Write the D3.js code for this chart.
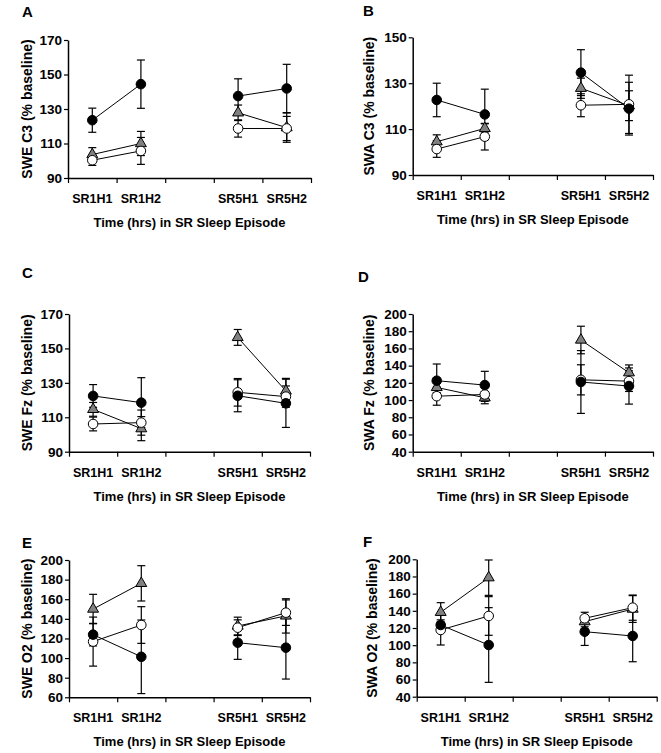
<!DOCTYPE html>
<html>
<head>
<meta charset="utf-8">
<script src="https://cdn.jsdelivr.net/npm/d3@7/dist/d3.min.js"></script>
<style>
  html, body { margin: 0; padding: 0; background: #fff; }
  svg { display: block; }
  text { font-family: "Liberation Sans", Arial, sans-serif; font-weight: bold; fill: #000; }
</style>
</head>
<body>
<svg id="chart" width="661" height="753"></svg>
<script>
// ---------- DATA ----------
const categories = ["SR1H1", "SR1H2", "", "SR5H1", "SR5H2"];
const xTitle = "Time (hrs) in SR Sleep Episode";

const panelLetters = ["A", "B", "C", "D", "E", "F"];
const yTitles = ["SWE C3 (% baseline)", "SWA C3 (% baseline)", "SWE Fz (% baseline)",
                 "SWA Fz (% baseline)", "SWE O2 (% baseline)", "SWA O2 (% baseline)"];

const yTicksA = [90, 110, 130, 150, 170];
const yTicksB = [90, 110, 130, 150];
const yTicksC = [90, 110, 130, 150, 170];
const yTicksD = [40, 60, 80, 100, 120, 140, 160, 180, 200];
const yTicksE = [60, 80, 100, 120, 140, 160, 180, 200];
const yTicksF = [40, 60, 80, 100, 120, 140, 160, 180, 200];

// values per category (null = gap category)
// Panel A
const A_filled    = [123.5, 144.4, null, 137.5, 141.9];
const A_filledErr = [7, 14, null, 10, 14];
const A_tri       = [103.6, 110, null, 127.8, 119.2];
const A_triErr    = [4, 7, null, 4.5, 8.5];
const A_open      = [100.3, 105.7, null, 118.7, 118.7];
const A_openErr   = [3, 7.8, null, 5, 7];
// Panel B
const B_filled    = [122.7, 116.4, null, 134.6, 118.9];
const B_filledErr = [7.3, 11, null, 10, 11.5];
const B_tri       = [104.5, 110.3, null, 127.8, 120.2];
const B_triErr    = [3, 2, null, 4.4, 6.5];
const B_open      = [101.3, 106.7, null, 120.4, 120.8];
const B_openErr   = [3.6, 5.8, null, 5, 12.7];
// Panel C
const C_filled    = [122.4, 118.5, null, 122.5, 118.1];
const C_filledErr = [6.6, 14.5, null, 9.3, 14];
const C_tri       = [114.6, 103.4, null, 156.4, 125.3];
const C_triErr    = [4, 7, null, 4.6, 7.3];
const C_open      = [106.1, 106.9, null, 124.5, 122];
const C_openErr   = [4, 7.3, null, 8, 6.2];
// Panel D
const D_filled    = [122.5, 117.4, null, 121, 116.3];
const D_filledErr = [19.4, 16, null, 36.5, 21];
const D_tri       = [114.7, 102.7, null, 169.8, 131.8];
const D_triErr    = [6, 7, null, 16, 9];
const D_open      = [104.5, 106.5, null, 123.5, 122];
const D_openErr   = [10.5, 8, null, 17.5, 12];
// Panel E
const E_filled    = [123.9, 101.3, null, 115.7, 110.6];
const E_filledErr = [11.5, 37.5, null, 17, 32];
const E_tri       = [150, 176.2, null, 132.7, 143];
const E_triErr    = [15, 18, null, 9, 17.5];
const E_open      = [116.8, 133.7, null, 131, 146.3];
const E_openErr   = [25, 18.7, null, 8, 13];
// Panel F
const F_filled    = [123.5, 100.2, null, 115.7, 110.7];
const F_filledErr = [6, 43.5, null, 16, 30];
const F_tri       = [138.3, 178.6, null, 127.4, 142.1];
const F_triErr    = [11.2, 20.6, null, 6, 15.6];
const F_open      = [117.7, 134, null, 131.3, 143.7];
const F_openErr   = [17.5, 22.5, null, 7, 14.7];

// ---------- LAYOUT ----------
const panels = [
  {letter: panelLetters[0], yTitle: yTitles[0], ticks: yTicksA,
   series: [[A_tri, A_triErr], [A_open, A_openErr], [A_filled, A_filledErr]],
   x0: 68, x1: 311, yTop: 40, yBot: 178, letterX: 22, letterY: 17, yTitleX: 27},
  {letter: panelLetters[1], yTitle: yTitles[1], ticks: yTicksB,
   series: [[B_tri, B_triErr], [B_open, B_openErr], [B_filled, B_filledErr]],
   x0: 412.7, x1: 653, yTop: 37.3, yBot: 175, letterX: 363, letterY: 16, yTitleX: 369},
  {letter: panelLetters[2], yTitle: yTitles[2], ticks: yTicksC,
   series: [[C_tri, C_triErr], [C_open, C_openErr], [C_filled, C_filledErr]],
   x0: 69, x1: 310, yTop: 314, yBot: 451.7, letterX: 22, letterY: 278, yTitleX: 27},
  {letter: panelLetters[3], yTitle: yTitles[3], ticks: yTicksD,
   series: [[D_tri, D_triErr], [D_open, D_openErr], [D_filled, D_filledErr]],
   x0: 412.7, x1: 653, yTop: 314, yBot: 451.7, letterX: 358, letterY: 282, yTitleX: 369},
  {letter: panelLetters[4], yTitle: yTitles[4], ticks: yTicksE,
   series: [[E_tri, E_triErr], [E_open, E_openErr], [E_filled, E_filledErr]],
   x0: 69, x1: 310, yTop: 560, yBot: 697.3, letterX: 22, letterY: 548, yTitleX: 27},
  {letter: panelLetters[5], yTitle: yTitles[5], ticks: yTicksF,
   series: [[F_tri, F_triErr], [F_open, F_openErr], [F_filled, F_filledErr]],
   x0: 416.7, x1: 656.7, yTop: 559.3, yBot: 696.7, letterX: 363, letterY: 547, yTitleX: 372}
];

// series styles: triangle (grey), open circle, filled circle
const styles = [
  {shape: d3.symbolTriangle, size: 52, fill: "#808080"},
  {shape: d3.symbolCircle, size: 72, fill: "#ffffff"},
  {shape: d3.symbolCircle, size: 72, fill: "#000000"}
];

const svg = d3.select("#chart");

panels.forEach(p => {
  const g = svg.append("g");
  const idx = d3.range(categories.length);
  const band = d3.scaleBand().domain(idx).range([p.x0, p.x1]).paddingInner(0).paddingOuter(0);
  const xl = d3.scaleLinear().domain([0, categories.length]).range([p.x0, p.x1]);
  const y = d3.scaleLinear().domain([p.ticks[0], p.ticks[p.ticks.length - 1]]).range([p.yBot, p.yTop]);
  const cx = i => band(i) + band.bandwidth() / 2;

  // x axis tick marks at band boundaries
  const xa = g.append("g").attr("transform", `translate(0,${p.yBot})`)
    .call(d3.axisBottom(xl).tickValues(d3.range(categories.length + 1)).tickFormat("").tickSizeInner(5).tickSizeOuter(0));
  xa.selectAll("path.domain").attr("stroke", "#000").attr("stroke-width", 1.5);
  xa.selectAll(".tick line").attr("stroke", "#000").attr("stroke-width", 1.2);

  // x labels
  const xb = g.append("g").attr("transform", `translate(0,${p.yBot})`)
    .call(d3.axisBottom(band).tickFormat(i => categories[i]).tickSize(0).tickPadding(16));
  xb.select("path.domain").remove();
  xb.selectAll("text").attr("font-size", 12.5).attr("font-family", "Liberation Sans, Arial, sans-serif").attr("font-weight", "bold").attr("fill", "#000");

  // y axis
  const ya = g.append("g").attr("transform", `translate(${p.x0},0)`)
    .call(d3.axisLeft(y).tickValues(p.ticks).tickSizeInner(4).tickSizeOuter(0).tickPadding(2));
  ya.selectAll("path.domain").attr("stroke", "#000").attr("stroke-width", 1.5);
  ya.selectAll(".tick line").attr("stroke", "#000").attr("stroke-width", 1.2);
  ya.selectAll("text").attr("font-size", 13.5).attr("font-family", "Liberation Sans, Arial, sans-serif").attr("font-weight", "bold").attr("fill", "#000");

  // titles
  g.append("text").attr("x", (p.x0 + p.x1) / 2).attr("y", p.yBot + 49)
    .attr("text-anchor", "middle").attr("font-size", 13).text(xTitle);
  g.append("text").attr("transform", `translate(${p.yTitleX + 5},${(p.yTop + p.yBot) / 2}) rotate(-90)`)
    .attr("text-anchor", "middle").attr("font-size", 14).text(p.yTitle);
  g.append("text").attr("x", p.letterX).attr("y", p.letterY).attr("font-size", 15).text(p.letter);

  // connecting lines (segments within each sleep episode)
  const segs = [[0, 1], [3, 4]];
  p.series.forEach(([vals]) => {
    segs.forEach(([a, b]) => {
      g.append("line").attr("x1", cx(a)).attr("y1", y(vals[a])).attr("x2", cx(b)).attr("y2", y(vals[b]))
        .attr("stroke", "#000").attr("stroke-width", 1);
    });
  });

  // error bars
  p.series.forEach(([vals, errs]) => {
    idx.forEach(i => {
      if (vals[i] == null) return;
      const x = cx(i), hi = y(vals[i] + errs[i]), lo = y(vals[i] - errs[i]);
      g.append("line").attr("x1", x).attr("x2", x).attr("y1", hi).attr("y2", lo).attr("stroke", "#000").attr("stroke-width", 1.2);
      [hi, lo].forEach(yy => g.append("line").attr("x1", x - 4).attr("x2", x + 4).attr("y1", yy).attr("y2", yy)
        .attr("stroke", "#000").attr("stroke-width", 1.2));
    });
  });

  // markers
  p.series.forEach(([vals], si) => {
    const st = styles[si];
    const sym = d3.symbol().type(st.shape).size(st.size);
    idx.forEach(i => {
      if (vals[i] == null) return;
      g.append("path").attr("d", sym())
        .attr("transform", `translate(${cx(i)},${y(vals[i])})`)
        .attr("fill", st.fill).attr("stroke", "#000").attr("stroke-width", 1);
    });
  });
});
</script>
</body>
</html>
